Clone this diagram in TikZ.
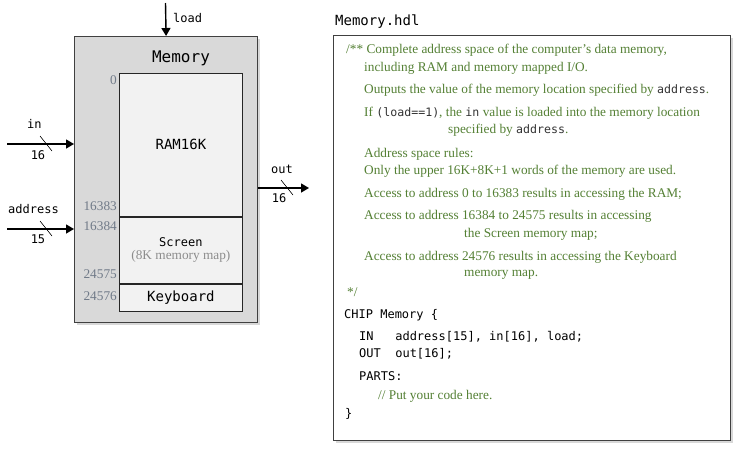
\documentclass[tikz,border=0pt]{standalone}
\usepackage{fontspec}
\setmainfont{Liberation Serif}
\setmonofont{DejaVu Sans Mono}
\usetikzlibrary{positioning,arrows.meta,shadows}
\definecolor{commentgreen}{RGB}{84,128,52}
\definecolor{addrgray}{RGB}{112,122,136}
\definecolor{chipgray}{RGB}{217,217,217}
\definecolor{cellgray}{RGB}{242,242,242}
\newcommand{\cw}[1]{{\ttfamily\color{black!80}\fontsize{11.6}{13}\selectfont #1}}

\begin{document}
\begin{tikzpicture}[x=1pt,y=-1pt]
	\tikzset{
		chipbox/.style={draw=black!75, line width=1.2pt, fill=chipgray, inner sep=0pt,
			drop shadow={shadow xshift=2pt, shadow yshift=-2pt, fill=black!30}},
		cellbox/.style={draw=black!85, line width=0.8pt, fill=cellgray, inner sep=0pt,
			minimum width=123pt, align=center},
		codebox/.style={draw=black!75, line width=1.2pt, fill=white, inner sep=0pt,
			drop shadow={shadow xshift=2pt, shadow yshift=-2pt, fill=black!30}},
		bus/.style={line width=1.4pt, -{Triangle[length=8pt,width=9pt]}},
		tick/.style={line width=0.6pt},
		pinlab/.style={font=\ttfamily\fontsize{12}{14}\selectfont, inner sep=0pt},
		addrlab/.style={font=\fontsize{13.3}{15}\selectfont, text=addrgray, inner sep=0pt, anchor=east},
		cmt/.style={font=\fontsize{13.3}{15}\selectfont, text=commentgreen, inner sep=0pt, anchor=west},
		code/.style={font=\ttfamily\fontsize{12}{14}\selectfont, inner sep=0pt, anchor=west}
	}
	\useasboundingbox (0,0) rectangle (742,450);

	% the chip
	\node[chipbox, anchor=north west, minimum width=183pt, minimum height=286pt] (memory) at (74,36) {};
	\node[font=\ttfamily\fontsize{16}{18}\selectfont] (memtitle) at (181,58) {Memory};
	\node[cellbox, anchor=north west, minimum height=143pt, font=\ttfamily\fontsize{14}{16}\selectfont] (ram) at (119,73) {RAM16K};
	\node[cellbox, anchor=north, minimum height=66pt] (screen) at (ram.south)
		{{\ttfamily\fontsize{12}{14}\selectfont Screen}\\[1pt]{\fontsize{13.3}{15}\selectfont\color{black!45}(8K memory map)}};
	\node[cellbox, anchor=north, minimum height=27pt, font=\ttfamily\fontsize{14}{16}\selectfont] (keyboard) at (screen.south) {Keyboard};

	% address boundaries
	\node[addrlab] (a0) at (117,80) {0};
	\node[addrlab] (a16383) at (117,206) {16383};
	\node[addrlab] (a16384) at (117,226) {16384};
	\node[addrlab] (a24575) at (117,274) {24575};
	\node[addrlab] (a24576) at (117,296) {24576};

	% pins
	\coordinate (loadsrc) at (165.5,3);
	\draw[bus] (loadsrc) -- (memory.north);
	\node[pinlab, anchor=west] (loadlab) at (173,18) {load};

	\coordinate (insrc) at (7,144);
	\draw[bus] (insrc) -- (insrc -| memory.west);
	\draw[tick] (40,136) -- (52,151);
	\node[pinlab, anchor=west] (inlab) at (27,124) {in};
	\node[pinlab] (inwidth) at (38,155) {16};

	\coordinate (addrsrc) at (7,229);
	\draw[bus] (addrsrc) -- (addrsrc -| memory.west);
	\draw[tick] (40,221) -- (52,236);
	\node[pinlab, anchor=west] (addrlab) at (8,209) {address};
	\node[pinlab] (addrwidth) at (38,239) {15};

	\coordinate (outdst) at (309,188);
	\draw[bus] (outdst -| memory.east) -- (outdst);
	\draw[tick] (281,180) -- (293,195);
	\node[pinlab, anchor=west] (outlab) at (271,169) {out};
	\node[pinlab] (outwidth) at (279,198) {16};

	% the hdl file
	\node[font=\ttfamily\fontsize{14}{16}\selectfont, inner sep=0pt, anchor=west] (hdlname) at (335,22) {Memory.hdl};
	\node[codebox, anchor=north west, minimum width=397pt, minimum height=405pt] (hdl) at (333,35) {};

	\node[cmt] (c1) at (346,50) {/** Complete address space of the computer’s data memory,};
	\node[cmt] (c2) at (364,68) {including RAM and memory mapped I/O.};
	\node[cmt] (c3) at (364,90) {Outputs the value of the memory location specified by \cw{address}.};
	\node[cmt] (c4) at (364,113) {If \cw{(load==1)}, the \cw{in} value is loaded into the memory location};
	\node[cmt] (c5) at (448,130) {specified by \cw{address}.};
	\node[cmt] (c6) at (364,154) {Address space rules:};
	\node[cmt] (c7) at (364,171) {Only the upper 16K+8K+1 words of the memory are used.};
	\node[cmt] (c8) at (364,194) {Access to address 0 to 16383 results in accessing the RAM;};
	\node[cmt] (c9) at (364,216) {Access to address 16384 to 24575 results in accessing};
	\node[cmt] (c10) at (464,234) {the Screen memory map;};
	\node[cmt] (c11) at (364,257) {Access to address 24576 results in accessing the Keyboard};
	\node[cmt] (c12) at (464,275) {memory map.};
	\node[cmt] (c13) at (347,292) {*/};

	\node[code] (k1) at (344,315) {CHIP Memory \{};
	\node[code] (k2) at (359,337) {IN\ \ \ address[15], in[16], load;};
	\node[code] (k3) at (359,354) {OUT\ \ out[16];};
	\node[code] (k4) at (359,376) {PARTS:};
	\node[cmt] (k5) at (378,396) {// Put your code here.};
	\node[code] (k6) at (345,414) {\}};
\end{tikzpicture}
\end{document}
